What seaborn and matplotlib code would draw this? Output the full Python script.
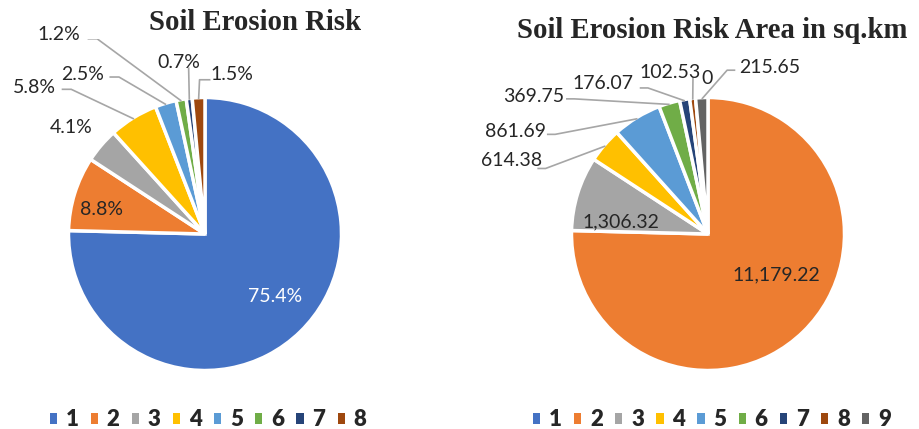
import numpy as np
import matplotlib.pyplot as plt
import seaborn as sns
from matplotlib.patches import Patch

# -----------------------------
# Data
# -----------------------------
risk_classes = ["1", "2", "3", "4", "5", "6", "7", "8"]
risk_percent = [75.4, 8.8, 4.1, 5.8, 2.5, 1.2, 0.7, 1.5]

area_classes = ["1", "2", "3", "4", "5", "6", "7", "8", "9"]
area_sqkm = [0, 11179.22, 1306.32, 614.38, 861.69, 369.75, 176.07, 102.53, 215.65]
area_labels = ["0", "11,179.22", "1,306.32", "614.38", "861.69", "369.75",
               "176.07", "102.53", "215.65"]

left_colors = ["#4472C4", "#ED7D31", "#A5A5A5", "#FFC000", "#5B9BD5",
               "#70AD47", "#264478", "#9E480E"]
right_colors = ["#4472C4", "#ED7D31", "#A5A5A5", "#FFC000", "#5B9BD5",
                "#70AD47", "#264478", "#9E480E", "#636363"]

# label layout in pie-radius units: text centre, leader start, stub length
left_layout = [
    ((0.51, -0.46), None, 0), ((-0.76, 0.18), None, 0), ((-0.98, 0.78), None, 0),
    ((-1.25, 1.07), (-1.05, 1.06), 0.07), ((-0.90, 1.17), (-0.70, 1.15), 0.07),
    ((-1.07, 1.46), (-0.86, 1.43), 0.07), ((-0.19, 1.26), (-0.12, 1.22), 0),
    ((0.20, 1.17), (0.04, 1.13), -0.08),
]
right_layout = [
    ((-0.01, 1.14), None, 0), ((0.50, -0.30), None, 0), ((-0.64, 0.09), None, 0),
    ((-1.44, 0.54), (-1.25, 0.48), 0.06), ((-1.41, 0.75), (-1.18, 0.73), 0.06),
    ((-1.28, 1.01), (-1.04, 0.99), 0.06), ((-0.77, 1.10), (-0.50, 1.07), 0.06),
    ((-0.28, 1.18), (-0.11, 1.15), 0), ((0.45, 1.22), (0.20, 1.20), -0.06),
]

sns.set_theme(style="white")
plt.rcParams['font.family'] = ['Lato', 'DejaVu Sans']

fig = plt.figure(figsize=(9.2, 4.29), dpi=100)


def draw_pie(ax, values, colors, texts, layout, white_idx):
    ax.pie(values, colors=colors, startangle=90, counterclock=False,
           wedgeprops=dict(edgecolor="white", linewidth=2.5))
    total = float(sum(values))
    cum = np.cumsum([0] + list(values))
    for i, txt in enumerate(texts):
        (tx, ty), start, stub = layout[i]
        color = "white" if i == white_idx else "#262626"
        ax.text(tx, ty, txt, ha="center", va="center", fontsize=14, color=color)
        if start is None:
            continue
        mid = (cum[i] + values[i] / 2) / total
        ang = np.deg2rad(90 - 360 * mid)
        rx, ry = 0.99 * np.cos(ang), 0.99 * np.sin(ang)
        sx, sy = start
        ax.plot([sx, sx + stub, rx], [sy, sy, ry], color="#A6A6A6", lw=1.2,
                solid_capstyle="butt")


# left pie: centre (205, 234) px, r=136.5
r = 136.5
axl = fig.add_axes([0, 0, 410 / 920, 390 / 429])
draw_pie(axl, risk_percent, left_colors, [f"{v}%" for v in risk_percent],
         left_layout, white_idx=0)
axl.set_xlim(-205 / r, 205 / r)
axl.set_ylim(-195 / r, 195 / r)
axl.axis("off")

# right pie: centre (708, 234) px
axr = fig.add_axes([(708 - 205) / 920, 0, 410 / 920, 390 / 429])
draw_pie(axr, area_sqkm, right_colors, area_labels, right_layout, white_idx=-1)
axr.set_xlim(-205 / r, 205 / r)
axr.set_ylim(-195 / r, 195 / r)
axr.axis("off")

fig.text(255 / 920, 1 - 22 / 429, "Soil Erosion Risk", ha="center", va="center",
         fontsize=20.7, fontweight="bold", family="Liberation Serif")
fig.text(712 / 920, 1 - 30 / 429, "Soil Erosion Risk Area in sq.km", ha="center",
         va="center", fontsize=20.7, fontweight="bold", family="Liberation Serif")

# legends
for classes, colors, xc in [(risk_classes, left_colors, 208),
                            (area_classes, right_colors, 712)]:
    handles = [Patch(facecolor=c, edgecolor="none") for c in colors]
    fig.legend(handles, classes, loc="center", bbox_to_anchor=(xc / 920, 1 - 420 / 429),
               ncol=len(classes), frameon=False, handlelength=0.32, handleheight=0.32,
               handletextpad=0.4, columnspacing=0.55, borderpad=0, borderaxespad=0,
               prop=dict(family="Lato", weight="heavy", size=16))

plt.savefig("out.png", dpi=100)
plt.close()
